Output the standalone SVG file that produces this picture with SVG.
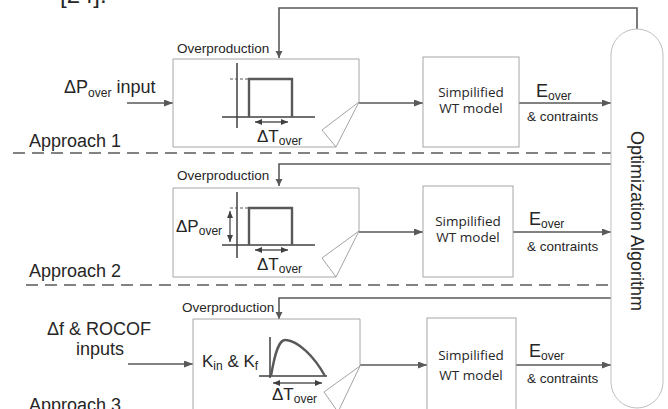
<svg xmlns="http://www.w3.org/2000/svg" width="668" height="409" viewBox="0 0 668 409">
<defs>
<style>
.t{font-family:"Liberation Sans",Arial,sans-serif;fill:#262626}
.w{font-family:"Open Sans","Noto Sans",sans-serif;font-size:13.5px;fill:#262626}
.box{fill:#fff;stroke:#a6a6a6;stroke-width:1}
.curl{fill:#fff;stroke:#8c8c8c;stroke-width:0.8}
.ar{fill:none;stroke:#595959;stroke-width:1.6;marker-end:url(#ah)}
.fb{fill:none;stroke:#595959;stroke-width:1.6;marker-end:url(#ahs)}
.ax{fill:none;stroke:#404040;stroke-width:1.5}
.pul{fill:none;stroke:#595959;stroke-width:2.4}
.dd{fill:none;stroke:#595959;stroke-width:1.4;marker-start:url(#ahd);marker-end:url(#ahd)}
.dl{fill:none;stroke:#595959;stroke-width:1.5;stroke-dasharray:12 7}
.ds{fill:none;stroke:#595959;stroke-width:1;stroke-dasharray:3 2}
</style>
<marker id="ah" markerUnits="userSpaceOnUse" markerWidth="9" markerHeight="7" refX="9" refY="3.5" orient="auto"><path d="M0,0 L9,3.5 L0,7 z" fill="#595959"/></marker>
<marker id="ahs" markerUnits="userSpaceOnUse" markerWidth="7" markerHeight="8" refX="7" refY="3.5" orient="auto"><path d="M0,0 L7,3.5 L0,7 z" fill="#595959"/></marker>
<marker id="ahd" markerUnits="userSpaceOnUse" markerWidth="7" markerHeight="7" refX="7" refY="3" orient="auto-start-reverse"><path d="M0,0 L7,3 L0,6 z" fill="#404040"/></marker>
</defs>
<rect width="668" height="409" fill="#fff"/>
<text class="t" x="60" y="3" font-size="24">[24].</text>

<g id="connectors">
<polyline class="fb" points="637,29 637,8 279,8 279,58"/>
<polyline class="fb" points="611,164 279,164 279,186"/>
<polyline class="fb" points="611,298 279,298 279,319"/>
<line class="ar" x1="127" y1="103" x2="173" y2="103"/>
<line class="ar" x1="359" y1="103" x2="423" y2="103"/>
<line class="ar" x1="519" y1="103" x2="611" y2="103"/>
<line class="ar" x1="359" y1="232" x2="423" y2="232"/>
<line class="ar" x1="513" y1="232" x2="611" y2="232"/>
<line class="ar" x1="128" y1="364" x2="193" y2="364"/>
<line class="ar" x1="360" y1="365" x2="427" y2="365"/>
<line class="ar" x1="516" y1="365" x2="611" y2="365"/>
<line class="dl" x1="13" y1="153" x2="611" y2="153"/>
<line class="dl" x1="26" y1="285" x2="611" y2="285"/>
</g>

<g id="labels">
<text class="t" x="29" y="147" font-size="18">Approach 1</text>
<text class="t" x="29" y="277" font-size="18">Approach 2</text>
<text class="t" x="29" y="411" font-size="18">Approach 3</text>
<text class="t" x="64" y="93" font-size="18">ΔP<tspan font-size="12" dy="4">over</tspan><tspan dy="-4"> input</tspan></text>
<text class="t" x="99" y="335" font-size="18" text-anchor="middle">Δf &amp; ROCOF</text>
<text class="t" x="100" y="355" font-size="18" text-anchor="middle">inputs</text>
<text class="t" x="177" y="53" font-size="13.5">Overproduction</text>
<text class="t" x="177" y="180" font-size="13.5">Overproduction</text>
<text class="t" x="182" y="312" font-size="13.5">Overproduction</text>
<text class="t" x="536" y="97" font-size="18">E<tspan font-size="12" dy="3">over</tspan></text>
<text class="t" x="527" y="121" font-size="13.5">&amp; contraints</text>
<text class="t" x="529" y="225" font-size="18">E<tspan font-size="12" dy="3">over</tspan></text>
<text class="t" x="527" y="251" font-size="13.5">&amp; contraints</text>
<text class="t" x="529" y="357" font-size="18">E<tspan font-size="12" dy="3">over</tspan></text>
<text class="t" x="527" y="383" font-size="13.5">&amp; contraints</text>
</g>

<g id="overproduction1">
<path class="box" d="M359,102 V59 H173 V147 H336"/>
<polygon class="curl" points="359,102 322,130 336,147"/>
<line class="ax" x1="237" y1="63" x2="237" y2="128"/>
<line class="ax" x1="222" y1="117" x2="315" y2="117"/>
<line class="ds" x1="230" y1="79" x2="249" y2="79"/>
<polyline class="pul" points="249,117 249,79 292,79 292,117"/>
<line class="dd" x1="255" y1="122" x2="288" y2="122"/>
<text class="t" x="257" y="142" font-size="17">ΔT<tspan font-size="12" dy="3">over</tspan></text>
</g>

<g id="wt1">
<rect class="box" x="423" y="57" width="96" height="90"/>
<text class="w" x="471" y="97" text-anchor="middle">Simpilified</text>
<text class="w" x="471" y="113" text-anchor="middle">WT model</text>
</g>

<g id="overproduction2">
<path class="box" d="M359,231 V188 H173 V277 H336"/>
<polygon class="curl" points="359,231 322,258 336,277"/>
<line class="ax" x1="237" y1="192" x2="237" y2="258"/>
<line class="ax" x1="222" y1="245" x2="315" y2="245"/>
<line class="ds" x1="230" y1="208" x2="249" y2="208"/>
<polyline class="pul" points="249,245 249,208 292,208 292,245"/>
<line class="dd" x1="230" y1="211" x2="230" y2="242"/>
<line class="dd" x1="255" y1="250" x2="288" y2="250"/>
<text class="t" x="176" y="232" font-size="17">ΔP<tspan font-size="12" dy="3">over</tspan></text>
<text class="t" x="257" y="270" font-size="17">ΔT<tspan font-size="12" dy="3">over</tspan></text>
</g>

<g id="wt2">
<rect class="box" x="423" y="186" width="90" height="91"/>
<text class="w" x="468" y="226" text-anchor="middle">Simpilified</text>
<text class="w" x="468" y="242" text-anchor="middle">WT model</text>
</g>

<g id="overproduction3">
<path class="box" d="M360,366 V319 H193 V415"/>
<polygon class="curl" points="360,366 324,392 338,412"/>
<line class="ax" x1="270" y1="337" x2="270" y2="378"/>
<line class="ax" x1="259" y1="376" x2="327" y2="376"/>
<path class="pul" d="M271,376 C275,352 279,339 286,340 C298,341 314,356 325,376"/>
<line class="dd" x1="273" y1="383" x2="322" y2="383"/>
<text class="t" x="202" y="367" font-size="17">K<tspan font-size="12" dy="3">in</tspan><tspan dy="-3"> &amp; K</tspan><tspan font-size="12" dy="3">f</tspan></text>
<text class="t" x="272" y="400" font-size="17">ΔT<tspan font-size="12" dy="3">over</tspan></text>
</g>

<g id="wt3">
<rect class="box" x="427" y="318" width="89" height="100"/>
<text class="w" x="471" y="360" text-anchor="middle">Simpilified</text>
<text class="w" x="471" y="380" text-anchor="middle">WT model</text>
</g>

<g id="optimization">
<rect x="611" y="29" width="52" height="379" rx="26" fill="#fff" stroke="#bfbfbf" stroke-width="1"/>
<text class="t" font-size="18" text-anchor="middle" transform="translate(631,221) rotate(90)">Optimization Algorithm</text>
</g>
</svg>
